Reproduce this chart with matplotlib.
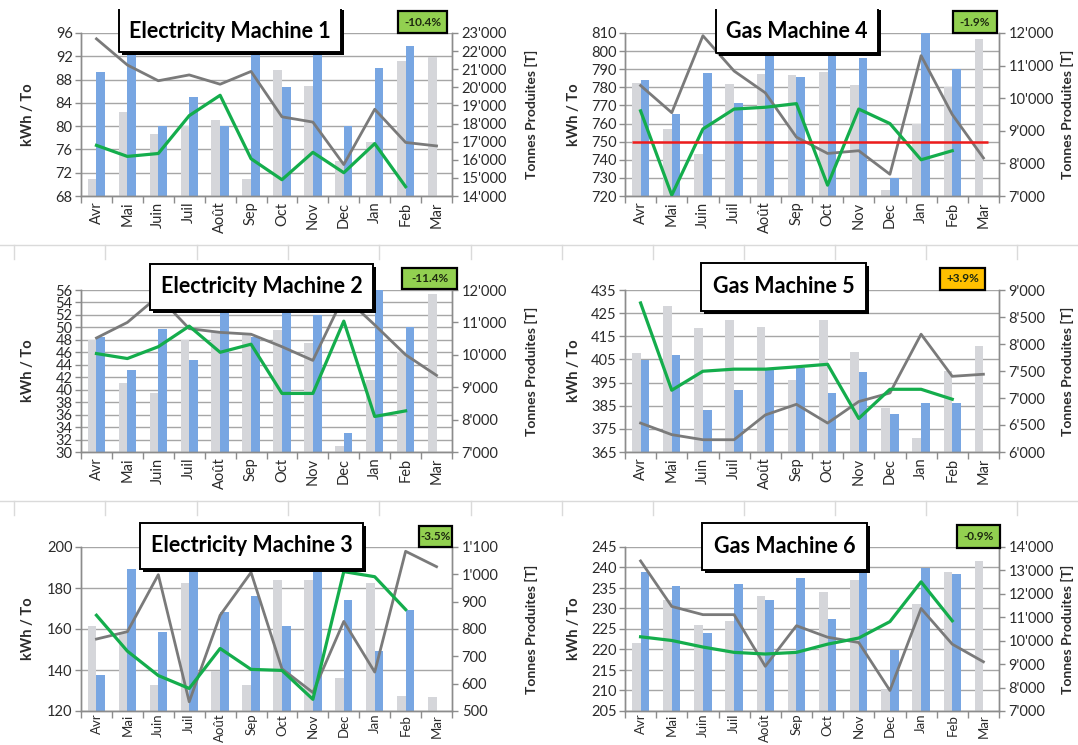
import matplotlib
matplotlib.use("Agg")
import matplotlib.pyplot as plt
from matplotlib.patches import Rectangle
from matplotlib.lines import Line2D
from matplotlib.ticker import FuncFormatter
import numpy as np

plt.rcParams['font.family'] = ['Lato', 'DejaVu Sans']

W, H = 1078, 745

months = ["Avr", "Mai", "Juin", "Juil", "Août", "Sep", "Oct", "Nov", "Dec", "Jan", "Feb", "Mar"]

# Electricity Machine 1
em1_prod_prev = [14950, 18650, 17450, 17850, 18200, 14950, 20950, 20100, 15950, 17000, 21450, 21700]
em1_prod_curr = [20850, 23400, 17850, 19450, 17850, 23400, 20000, 23400, 17850, 21050, 22300]
em1_spec_prev = [95.0, 90.5, 87.8, 88.8, 87.2, 89.4, 81.6, 80.7, 73.4, 82.9, 77.2, 76.6]
em1_spec_curr = [76.7, 74.8, 75.3, 81.8, 85.3, 74.4, 70.8, 75.5, 72.0, 77.0, 69.6]

# Gas Machine 4
gm4_prod_prev = [10470, 9050, 8300, 10450, 10750, 10720, 10800, 10390, 7170, 9220, 10330, 11830]
gm4_prod_curr = [10550, 9500, 10780, 9860, 11600, 10640, 11600, 11220, 7550, 12100, 10890]
gm4_spec_prev = [781, 766, 808.5, 789, 777, 752.5, 743.5, 745, 732, 797.5, 765, 741]
gm4_spec_curr = [767, 720.5, 757, 768, 769, 771, 726, 768, 760, 740, 745]
gm4_target = 750

# Electricity Machine 2
em2_prod_prev = [10460, 9120, 8830, 10460, 10690, 10650, 10770, 10370, 7190, 9210, 10080, 11870]
em2_prod_curr = [10560, 9540, 10790, 9850, 11800, 10560, 11800, 11230, 7580, 12050, 10850]
em2_spec_prev = [48.3, 50.8, 55.0, 49.8, 49.2, 48.9, 46.9, 44.7, 55.0, 50.4, 45.6, 42.3]
em2_spec_curr = [45.8, 45.0, 46.9, 50.2, 46.0, 47.3, 39.4, 39.4, 51.0, 35.7, 36.6]

# Gas Machine 5
gm5_prod_prev = [7840, 8700, 8290, 8440, 8310, 7330, 8440, 7860, 6810, 6260, 7500, 7970]
gm5_prod_curr = [7710, 7800, 6770, 7140, 7520, 7560, 7090, 7480, 6710, 6900, 6900]
gm5_spec_prev = [377.5, 372.5, 370.3, 370.3, 381.0, 385.6, 377.5, 386.8, 390.5, 415.9, 397.7, 398.6]
gm5_spec_curr = [429.4, 391.7, 399.9, 400.8, 400.8, 401.8, 402.9, 379.5, 392.1, 392.1, 387.8]

# Electricity Machine 3
em3_prod_prev = [810, 790, 595, 970, 645, 595, 980, 980, 620, 970, 556, 552]
em3_prod_curr = [630, 1020, 790, 1140, 864, 920, 811, 1140, 905, 718, 868]
em3_spec_prev = [155.1, 158.7, 186.5, 124.5, 166.7, 187.6, 140.6, 129.0, 163.7, 139.0, 197.9, 190.4]
em3_spec_curr = [166.7, 149.2, 137.3, 131.0, 150.5, 140.3, 139.8, 125.7, 188.0, 185.5, 169.5]

# Gas Machine 6
gm6_prod_prev = [9890, 11725, 10675, 10850, 11900, 9450, 12075, 12600, 7960, 11550, 12950, 13390]
gm6_prod_curr = [12950, 12340, 10325, 12425, 11725, 12690, 10940, 14200, 9625, 13125, 12860]
gm6_spec_prev = [241.6, 230.5, 228.5, 228.5, 215.9, 225.8, 223.0, 221.7, 210.0, 230.0, 221.3, 217.0]
gm6_spec_curr = [223.1, 222.2, 220.6, 219.3, 218.9, 219.3, 221.3, 222.8, 226.8, 236.5, 227.0]

GRAY_BAR = '#d5d6da'
BLUE_BAR = '#78a6e2'
GRAY_LINE = '#7a7a7a'
GREEN_LINE = '#14ad4c'
RED_LINE = '#ee1c1c'
GRID = '#a6a6a6'
SPINE = '#8c8c8c'
TEXT = '#2b2b2b'
BADGE_GREEN = '#92d050'
BADGE_ORANGE = '#ffc000'

fig = plt.figure(figsize=(W / 100, H / 100), dpi=100)
fig.patch.set_facecolor('white')


def px_rect(x0, y0, x1, y1, **kw):
    return Rectangle((x0 / W, 1 - y1 / H), (x1 - x0) / W, (y1 - y0) / H,
                     transform=fig.transFigure, **kw)


def px_line(xs, ys, **kw):
    return Line2D([x / W for x in xs], [1 - y / H for y in ys],
                  transform=fig.transFigure, **kw)


def thousands(v, _pos=None):
    return f"{int(round(v)):,}".replace(",", "'")


# Spreadsheet cell grid visible between the chart objects
cell_cols = [14, 105, 197, 288, 379, 471, 562, 653, 744, 835, 926, 1017]
for row_y in (245, 501):
    fig.add_artist(px_line([0, W], [row_y, row_y], color='#dadada', lw=1.0, zorder=0))
    for cx in cell_cols:
        fig.add_artist(px_line([cx, cx], [row_y, row_y + 14], color='#dadada', lw=1.0, zorder=0))


def draw_panel(plot_px, left_lim, left_step, right_lim, right_step,
               prod_prev, prod_curr, spec_prev, spec_curr,
               title, title_px, badge, badge_px, badge_color,
               ylab_x, rlab_x, target=None, open_top=False,
               month_size=10.5, month_pad=4):
    l, t, r, b = plot_px
    ax = fig.add_axes([l / W, 1 - b / H, (r - l) / W, (b - t) / H])
    ax2 = ax.twinx()
    ax.set_zorder(ax2.get_zorder() + 1)
    ax.patch.set_visible(False)

    x = np.arange(len(months))
    bw = 0.28
    ax2.bar(x[:len(prod_prev)] - bw / 2, prod_prev, width=bw, color=GRAY_BAR, zorder=2)
    ax2.bar(x[:len(prod_curr)] + bw / 2, prod_curr, width=bw, color=BLUE_BAR, zorder=2)
    ax2.set_ylim(*right_lim)
    rticks = np.arange(right_lim[0], right_lim[1] + right_step / 2, right_step)
    ax2.set_yticks(rticks)
    ax2.yaxis.set_major_formatter(FuncFormatter(thousands))

    lticks = np.arange(left_lim[0], left_lim[1] + left_step / 2, left_step)
    # horizontal gridlines follow the left scale but sit beneath the bars
    for v in lticks:
        ax2.add_line(Line2D([0, 1], [v, v], transform=ax.get_yaxis_transform(),
                            color=GRID, lw=1.0, zorder=1))

    ax.plot(x[:len(spec_prev)], spec_prev, color=GRAY_LINE, lw=2.0, zorder=3,
            solid_joinstyle='round')
    ax.plot(x[:len(spec_curr)], spec_curr, color=GREEN_LINE, lw=2.3, zorder=4,
            solid_joinstyle='round')
    if target is not None:
        ax.hlines(target, -0.28, 11.15, color=RED_LINE, lw=1.8, zorder=5)

    ax.set_ylim(*left_lim)
    ax.set_yticks(lticks)
    ax.set_xlim(-0.5, len(months) - 0.5)
    ax2.set_xlim(-0.5, len(months) - 0.5)
    ax.set_xticks(x)
    ax.set_xticklabels(months, rotation=90, fontsize=month_size, color=TEXT)
    ax.set_xticks(np.arange(-0.5, len(months)), minor=True)
    ax.tick_params(axis='x', which='major', length=0, pad=month_pad)
    ax.tick_params(axis='x', which='minor', length=5, color=SPINE, width=1)
    ax.tick_params(axis='y', length=4, color=SPINE, width=1, labelsize=10.5,
                   labelcolor=TEXT, pad=2)
    ax2.tick_params(axis='y', length=4, color=SPINE, width=1, labelsize=10.5,
                    labelcolor=TEXT, pad=3)
    ax2.tick_params(axis='x', length=0, labelbottom=False)

    for a in (ax, ax2):
        a.spines['top'].set_visible(False)
        for s in ('left', 'right', 'bottom'):
            a.spines[s].set_color(SPINE)
            a.spines[s].set_linewidth(1.0)

    cy = (t + b) / 2
    fig.text(ylab_x / W, 1 - cy / H, "kWh / To", rotation=90, ha='center', va='center',
             fontsize=10.5, fontweight='bold', color=TEXT)
    fig.text(rlab_x / W, 1 - cy / H, "Tonnes Produites [T]", rotation=90, ha='center',
             va='center', fontsize=10, fontweight='bold', color=TEXT)

    # title box with drop shadow
    x0, y0, x1, y1 = title_px
    sh = 3
    if open_top:
        fig.add_artist(px_rect(x0 + sh, y0, x1 + sh, y1 + sh, facecolor='black',
                               edgecolor='none', zorder=20))
        fig.add_artist(px_rect(x0, y0 - 2, x1, y1, facecolor='white', edgecolor='none',
                               zorder=21))
        fig.add_artist(px_line([x0, x0, x1, x1], [y0, y1, y1, y0], color='black',
                               lw=1.4, zorder=22))
    else:
        fig.add_artist(px_rect(x0 + sh, y0 + sh, x1 + sh, y1 + sh, facecolor='black',
                               edgecolor='none', zorder=20))
        fig.add_artist(px_rect(x0, y0, x1, y1, facecolor='white', edgecolor='black',
                               lw=1.4, zorder=21))
    fig.text((x0 + x1) / 2 / W, 1 - (y0 + y1) / 2 / H, title, ha='center', va='center',
             fontsize=15.5, fontweight='bold', color='black', zorder=23)

    bx0, by0, bx1, by1 = badge_px
    fig.add_artist(px_rect(bx0, by0, bx1, by1, facecolor=badge_color, edgecolor='black',
                           lw=1.6, zorder=20))
    fig.text((bx0 + bx1) / 2 / W, 1 - (by0 + by1) / 2 / H, badge, ha='center',
             va='center', fontsize=8.5, fontweight='bold', color='#1e2a10', zorder=23)


draw_panel((81, 33, 452, 196), (68, 96), 4, (14000, 23000), 1000,
           em1_prod_prev, em1_prod_curr, em1_spec_prev, em1_spec_curr,
           "Electricity Machine 1", (119, 10, 341, 52), "-10.4%", (398, 11, 447, 33),
           BADGE_GREEN, 28, 531, open_top=True)

draw_panel((625, 33, 999, 196), (720, 810), 10, (7000, 12000), 1000,
           gm4_prod_prev, gm4_prod_curr, gm4_spec_prev, gm4_spec_curr,
           "Gas Machine 4", (716, 10, 878, 53), "-1.9%", (953, 11, 997, 33),
           BADGE_GREEN, 574, 1067, target=gm4_target, open_top=True)

draw_panel((81, 290, 452, 452), (30, 56), 2, (7000, 12000), 1000,
           em2_prod_prev, em2_prod_curr, em2_spec_prev, em2_spec_curr,
           "Electricity Machine 2", (150, 264, 373, 310), "-11.4%", (402, 268, 457, 289),
           BADGE_GREEN, 28, 531)

draw_panel((625, 290, 999, 452), (365, 435), 10, (6000, 9000), 500,
           gm5_prod_prev, gm5_prod_curr, gm5_spec_prev, gm5_spec_curr,
           "Gas Machine 5", (701, 263, 866, 311), "+3.9%", (940, 268, 985, 290),
           BADGE_ORANGE, 574, 1067)

draw_panel((81, 547, 452, 711), (120, 200), 20, (500, 1100), 100,
           em3_prod_prev, em3_prod_curr, em3_spec_prev, em3_spec_curr,
           "Electricity Machine 3", (140, 523, 363, 569), "-3.5%", (419, 526, 452, 547),
           BADGE_GREEN, 28, 531, month_size=9.5, month_pad=2)

draw_panel((625, 547, 999, 711), (205, 245), 5, (7000, 14000), 1000,
           gm6_prod_prev, gm6_prod_curr, gm6_spec_prev, gm6_spec_curr,
           "Gas Machine 6", (702, 523, 867, 570), "-0.9%", (957, 525, 1000, 548),
           BADGE_GREEN, 574, 1067, month_size=9.5, month_pad=2)

fig.savefig("out.png", dpi=100, facecolor='white')
